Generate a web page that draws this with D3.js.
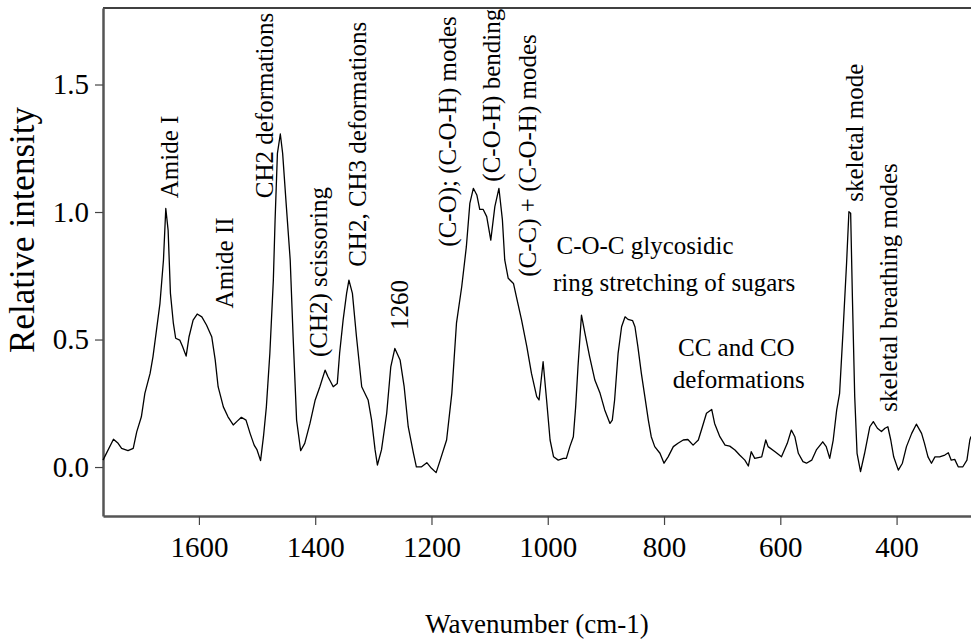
<!DOCTYPE html>
<html>
<head>
<meta charset="utf-8">
<script src="https://cdn.jsdelivr.net/npm/d3@7"></script>
<style>
  html, body { margin: 0; padding: 0; background: #fff; }
  svg { display: block; }
  text { font-family: "Liberation Serif", "Times New Roman", serif; fill: #000; }
</style>
</head>
<body>
<svg id="chart" width="971" height="641"></svg>
<script>
// ---- data ----
const wavenumbers = [
  1765,1747,1739,1733,1722,1713,1707,1699,1693,1684,1679,1673,1667,1661,1657,1653,1649,1644,1640,1633,
  1628,1622,1617,1610,1603,1595,1587,1578,1572,1567,1558,1550,1541,1535,1527,1519,1512,1505,1500,1494,
  1489,1484,1478,1472,1469,1465,1460,1456,1450,1443,1438,1432,1425,1418,1409,1400,1392,1383,1378,1369,
  1362,1358,1352,1346,1342,1336,1329,1320,1309,1303,1297,1293,1286,1277,1270,1263,1254,1247,1240,1231,
  1226,1217,1208,1200,1192,1185,1174,1165,1157,1148,1140,1134,1128,1122,1117,1111,1105,1098,1091,1084,
  1078,1074,1068,1059,1054,1045,1036,1028,1019,1015,1008,1002,996,990,982,973,968,962,956,952,
  948,942,936,928,919,910,902,893,889,885,879,873,867,862,854,850,845,839,833,827,
  822,816,807,800,793,784,776,767,759,750,741,734,727,718,713,704,695,687,678,670,
  661,655,650,644,632,625,621,609,598,588,581,575,569,561,555,546,538,527,521,515,
  509,503,498,492,486,482,479,476,472,468,462,455,446,440,433,426,420,415,410,405,
  397,390,383,374,366,357,352,346,340,334,326,317,311,306,300,294,286,279,274,272
];
const intensities = [
  0.027,0.109,0.093,0.073,0.064,0.073,0.138,0.197,0.289,0.367,0.433,0.537,0.642,0.812,1.014,0.929,0.681,0.564,0.505,0.498,
  0.472,0.435,0.511,0.576,0.600,0.589,0.557,0.511,0.420,0.315,0.236,0.197,0.165,0.178,0.195,0.184,0.132,0.086,0.067,0.025,
  0.119,0.236,0.446,0.733,0.969,1.230,1.306,1.230,1.034,0.812,0.511,0.184,0.064,0.093,0.171,0.263,0.315,0.380,0.354,0.315,
  0.328,0.446,0.576,0.681,0.733,0.681,0.511,0.315,0.263,0.184,0.067,0.008,0.067,0.211,0.393,0.465,0.420,0.315,0.158,0.054,
  0.001,0.001,0.017,-0.005,-0.022,0.027,0.106,0.289,0.564,0.707,0.864,1.034,1.093,1.067,1.010,1.010,0.982,0.890,1.021,1.093,
  0.969,0.812,0.740,0.720,0.668,0.576,0.472,0.367,0.276,0.263,0.413,0.263,0.106,0.040,0.027,0.034,0.034,0.080,0.119,0.236,
  0.393,0.596,0.524,0.433,0.341,0.289,0.224,0.171,0.184,0.263,0.446,0.550,0.589,0.579,0.574,0.550,0.472,0.367,0.276,0.184,
  0.119,0.080,0.054,0.015,0.040,0.080,0.093,0.106,0.108,0.086,0.106,0.158,0.211,0.226,0.171,0.119,0.086,0.082,0.067,0.047,
  0.027,0.004,0.060,0.034,0.040,0.106,0.080,0.060,0.040,0.093,0.145,0.119,0.054,0.021,0.015,0.027,0.067,0.099,0.080,0.034,
  0.106,0.224,0.289,0.537,0.800,1.001,0.995,0.667,0.276,0.054,-0.018,0.054,0.158,0.178,0.152,0.139,0.152,0.158,0.106,0.040,
  -0.012,0.015,0.080,0.132,0.168,0.132,0.093,0.040,0.015,0.040,0.040,0.047,0.056,0.027,0.030,0.001,0.001,0.027,0.106,0.120
];
const xTickValues = [1600, 1400, 1200, 1000, 800, 600, 400];
const yTickValues = [0.0, 0.5, 1.0, 1.5];

// rotated peak labels: text, wavenumber of text baseline, intensity where the text starts
const rotatedLabels = ["Amide I", "Amide II", "CH2 deformations", "(CH2) scissoring", "CH2, CH3 deformations", "1260",
  "(C-O); (C-O-H) modes", "(C-O-H) bending", "(C-C) + (C-O-H) modes", "skeletal mode", "skeletal breathing modes"];
const rotatedLabelX = [1636, 1542, 1473, 1380, 1313, 1241, 1158, 1082, 1020, 458, 400];
const rotatedLabelY = [1.054, 0.622, 1.054, 0.431, 0.785, 0.537, 0.864, 1.119, 0.746, 1.040, 0.217];
// horizontal labels
const flatLabels = ["C-O-C glycosidic", "ring stretching of sugars", "CC and CO", "deformations"];
const flatLabelX = [985, 991, 776, 785];
const flatLabelY = [0.835, 0.690, 0.435, 0.310];

// ---- layout ----
const FONT = '"Liberation Serif", "Times New Roman", serif';
const svg = d3.select("#chart");
const mLeft = 103, mRight = 971, mTop = 8, mBottom = 516;
const x = d3.scaleLinear().domain([1765, 272]).range([mLeft, mRight]);
const y = d3.scaleLinear().domain([-0.192, 1.8]).range([mBottom, mTop]);

// frame: top line
svg.append("line").attr("x1", mLeft).attr("x2", 971).attr("y1", mTop).attr("y2", mTop)
  .attr("stroke", "#000").attr("stroke-width", 1.5);

// x axis
const gx = svg.append("g").attr("transform", `translate(0,${mBottom})`)
  .call(d3.axisBottom(x).tickValues(xTickValues).tickSize(9).tickSizeOuter(0).tickFormat(d3.format("d")));
gx.attr("font-family", null).attr("font-size", null);
gx.select(".domain").attr("stroke", "#555").attr("stroke-width", 2.5);
gx.selectAll(".tick line").attr("stroke", "#444").attr("stroke-width", 1.2);
gx.selectAll(".tick text").attr("dy", null).attr("y", 41)
  .style("font-family", FONT).style("font-size", "29px").style("fill", "#000");

// y axis
const gy = svg.append("g").attr("transform", `translate(${mLeft},0)`)
  .call(d3.axisLeft(y).tickValues(yTickValues).tickSize(8).tickSizeOuter(0).tickFormat(d3.format(".1f")));
gy.attr("font-family", null).attr("font-size", null);
gy.select(".domain").attr("stroke", "#555").attr("stroke-width", 2.5);
gy.selectAll(".tick line").attr("stroke", "#444").attr("stroke-width", 1.2);
gy.selectAll(".tick text").attr("x", -14)
  .style("font-family", FONT).style("font-size", "29px").style("fill", "#000");

// spectrum
const pts = wavenumbers.map((w, i) => [w, intensities[i]]);
svg.append("path").datum(pts)
  .attr("fill", "none").attr("stroke", "#000").attr("stroke-width", 1.3)
  .attr("stroke-linejoin", "round")
  .attr("d", d3.line().x(d => x(d[0])).y(d => y(d[1])));

// rotated labels
rotatedLabels.forEach((t, i) => {
  const px = x(rotatedLabelX[i]), py = y(rotatedLabelY[i]);
  svg.append("text").attr("transform", `translate(${px},${py}) rotate(-90)`)
    .style("font-family", FONT).style("font-size", "25px").attr("text-anchor", "start").text(t);
});
// horizontal labels
flatLabels.forEach((t, i) => {
  svg.append("text").attr("x", x(flatLabelX[i])).attr("y", y(flatLabelY[i]))
    .style("font-family", FONT).style("font-size", "25px").text(t);
});

// axis titles
svg.append("text").attr("transform", `translate(34,230) rotate(-90)`)
  .attr("text-anchor", "middle").style("font-family", FONT).style("font-size", "35px").text("Relative intensity");
svg.append("text").attr("x", 537).attr("y", 633)
  .attr("text-anchor", "middle").style("font-family", FONT).style("font-size", "27px").text("Wavenumber (cm-1)");
</script>
</body>
</html>
